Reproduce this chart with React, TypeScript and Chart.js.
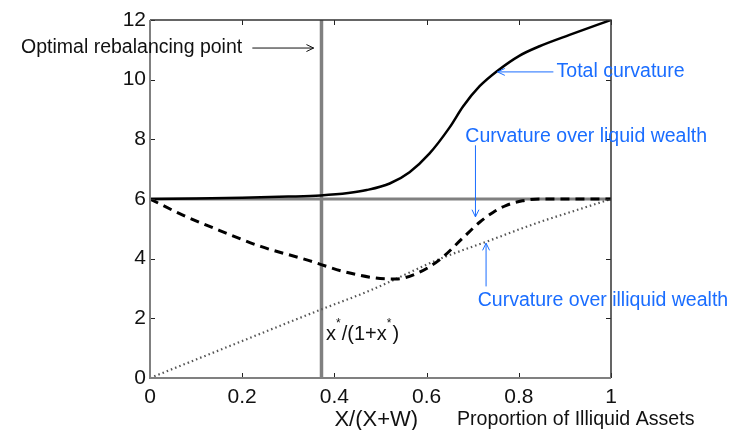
import React, { useEffect, useRef } from "react";
import { Chart, registerables } from "chart.js";

Chart.register(...registerables);

// ---- data ----
const totalX = [0, 0.1, 0.2, 0.3, 0.37, 0.43, 0.47, 0.52, 0.563, 0.606, 0.65, 0.679, 0.715, 0.754, 0.801, 0.845, 0.91, 1];
const totalY = [6.0, 6.02, 6.04, 6.08, 6.12, 6.2, 6.3, 6.52, 6.9, 7.52, 8.4, 9.1, 9.78, 10.3, 10.8, 11.12, 11.5, 12];

const liquidX = [0, 0.07, 0.15, 0.24, 0.34, 0.42, 0.49, 0.534, 0.578, 0.628, 0.679, 0.715, 0.744, 0.772, 0.808, 0.845, 0.9, 1];
const liquidY = [6.0, 5.47, 4.95, 4.41, 3.96, 3.57, 3.35, 3.32, 3.5, 3.96, 4.7, 5.22, 5.55, 5.78, 5.94, 6.0, 6.0, 6.0];

const illiquidX = [0, 0.1, 0.2, 0.3, 0.37, 0.48, 0.63, 0.73, 0.84, 0.92, 1];
const illiquidY = [0, 0.62, 1.24, 1.86, 2.29, 2.95, 4.0, 4.57, 5.2, 5.6, 6];

const optimalX = 0.372;
const levelY = 6;

const xTicks = [0, 0.2, 0.4, 0.6, 0.8, 1];
const xTickLabels = ["0", "0.2", "0.4", "0.6", "0.8", "1"];
const yTicks = [0, 2, 4, 6, 8, 10, 12];
const yTickLabels = ["0", "2", "4", "6", "8", "10", "12"];

const BLUE = "#1a6dff";
const FONT = "'Liberation Sans', Arial, sans-serif";

function pts(xs: number[], ys: number[]) {
  return xs.map((x, i) => ({ x, y: ys[i] }));
}

function arrowHead(ctx: CanvasRenderingContext2D, fx: number, fy: number, tx: number, ty: number, size: number) {
  const a = Math.atan2(ty - fy, tx - fx);
  ctx.beginPath();
  ctx.moveTo(tx - size * Math.cos(a - 0.45), ty - size * Math.sin(a - 0.45));
  ctx.lineTo(tx, ty);
  ctx.lineTo(tx - size * Math.cos(a + 0.45), ty - size * Math.sin(a + 0.45));
  ctx.stroke();
}

function arrow(ctx: CanvasRenderingContext2D, fx: number, fy: number, tx: number, ty: number, color: string) {
  ctx.save();
  ctx.strokeStyle = color;
  ctx.lineWidth = 1;
  ctx.beginPath();
  ctx.moveTo(fx, fy);
  ctx.lineTo(tx, ty);
  ctx.stroke();
  arrowHead(ctx, fx, fy, tx, ty, 8);
  ctx.restore();
}

const framePlugin = {
  id: "frame",
  afterDatasetsDraw(chart: any) {
    const { ctx, chartArea: ca, scales } = chart;
    const xs = scales.x;
    const ys = scales.y;
    ctx.save();
    // inward ticks
    ctx.strokeStyle = "#222";
    ctx.lineWidth = 1;
    const tl = 5;
    xTicks.forEach((v) => {
      const px = Math.round(xs.getPixelForValue(v)) + 0.5;
      ctx.beginPath();
      ctx.moveTo(px, ca.bottom);
      ctx.lineTo(px, ca.bottom - tl);
      ctx.moveTo(px, ca.top);
      ctx.lineTo(px, ca.top + tl);
      ctx.stroke();
    });
    yTicks.forEach((v) => {
      const py = Math.round(ys.getPixelForValue(v)) + 0.5;
      ctx.beginPath();
      ctx.moveTo(ca.left, py);
      ctx.lineTo(ca.left + tl, py);
      ctx.moveTo(ca.right, py);
      ctx.lineTo(ca.right - tl, py);
      ctx.stroke();
    });
    // frame
    ctx.lineWidth = 1.5;
    ctx.strokeStyle = "#333";
    ctx.beginPath();
    ctx.moveTo(ca.left, ca.top);
    ctx.lineTo(ca.right, ca.top);
    ctx.lineTo(ca.right, ca.bottom);
    ctx.stroke();
    ctx.lineWidth = 2;
    ctx.strokeStyle = "#808080";
    ctx.beginPath();
    ctx.moveTo(ca.left, ca.top);
    ctx.lineTo(ca.left, ca.bottom);
    ctx.lineTo(ca.right, ca.bottom);
    ctx.stroke();

    const X = (v: number) => xs.getPixelForValue(v);
    const Y = (v: number) => ys.getPixelForValue(v);

    ctx.font = `19.5px ${FONT}`;
    ctx.textBaseline = "middle";

    // Optimal rebalancing point
    ctx.fillStyle = "#111";
    ctx.textAlign = "right";
    ctx.fillText("Optimal rebalancing point", X(0.2), Y(11.06));
    arrow(ctx, X(0.222), Y(11.06), X(0.355), Y(11.06), "#111");

    // Total curvature
    ctx.fillStyle = BLUE;
    ctx.textAlign = "left";
    ctx.fillText("Total curvature", X(0.882), Y(10.26));
    arrow(ctx, X(0.875), Y(10.26), X(0.754), Y(10.26), BLUE);

    // Curvature over liquid wealth
    ctx.fillText("Curvature over liquid wealth", X(0.684), Y(8.08));
    arrow(ctx, X(0.706), Y(7.8), X(0.706), Y(5.4), BLUE);

    // Curvature over illiquid wealth
    ctx.fillText("Curvature over illiquid wealth", X(0.711), Y(2.59));
    arrow(ctx, X(0.729), Y(3.07), X(0.729), Y(4.52), BLUE);

    // x*/(1+x*)
    ctx.fillStyle = "#111";
    let cx = X(0.382);
    const cy = Y(1.45);
    const sup = `12px ${FONT}`;
    const main = `20px ${FONT}`;
    const parts: [string, boolean][] = [["x", false], ["*", true], ["/(1+x", false], ["*", true], [")", false]];
    parts.forEach(([t, s]) => {
      ctx.font = s ? sup : main;
      ctx.fillText(t, cx, s ? cy - 11 : cy);
      cx += ctx.measureText(t).width + (s ? 1 : 0);
    });

    // axis titles
    ctx.textAlign = "left";
    ctx.font = `22px ${FONT}`;
    ctx.fillText("X/(X+W)", X(0.4), 420);
    ctx.font = `19.6px ${FONT}`;
    ctx.fillText("Proportion of Illiquid Assets", X(0.666), 420);
    ctx.restore();
  },
};

export default function App() {
  const ref = useRef<HTMLCanvasElement | null>(null);
  useEffect(() => {
    if (!ref.current) return;
    const chart = new Chart(ref.current, {
      type: "line",
      data: {
        datasets: [
          {
            data: pts(totalX, totalY),
            borderColor: "#000",
            borderWidth: 2.5,
            pointRadius: 0,
            cubicInterpolationMode: "monotone",
            fill: false,
            order: 0,
          },
          {
            data: pts(liquidX, liquidY),
            borderColor: "#000",
            borderWidth: 3,
            borderDash: [9, 6],
            pointRadius: 0,
            cubicInterpolationMode: "monotone",
            fill: false,
            order: 0,
          },
          {
            data: pts(illiquidX, illiquidY),
            borderColor: "#555",
            borderWidth: 2.2,
            borderDash: [1.5, 3],
            pointRadius: 0,
            cubicInterpolationMode: "monotone",
            fill: false,
            order: 0,
          },
          {
            data: [
              { x: optimalX, y: 0 },
              { x: optimalX, y: 12 },
            ],
            borderColor: "#808080",
            borderWidth: 3.5,
            pointRadius: 0,
            fill: false,
            order: 2,
          },
          {
            data: [
              { x: 0, y: levelY },
              { x: 1, y: levelY },
            ],
            borderColor: "#808080",
            borderWidth: 3,
            pointRadius: 0,
            fill: false,
            order: 2,
          },
        ],
      },
      options: {
        animation: false,
        responsive: false,
        events: [],
        layout: { padding: { left: 0, top: 20, right: 129, bottom: 0 } },
        plugins: { legend: { display: false }, tooltip: { enabled: false } },
        scales: {
          x: {
            type: "linear",
            min: 0,
            max: 1,
            afterFit: (s: any) => {
              s.height = 52;
            },
            afterBuildTicks: (s: any) => {
              s.ticks = xTicks.map((v) => ({ value: v }));
            },
            ticks: {
              padding: 7,
              color: "#111",
              font: { family: FONT, size: 21 },
              maxRotation: 0,
              callback: (v: any) => {
                const i = xTicks.findIndex((t) => Math.abs(t - Number(v)) < 1e-9);
                return i >= 0 ? xTickLabels[i] : "";
              },
            },
            grid: { display: false, drawTicks: false },
            border: { display: false },
          },
          y: {
            type: "linear",
            min: 0,
            max: 12,
            afterFit: (s: any) => {
              s.width = 150;
            },
            afterBuildTicks: (s: any) => {
              s.ticks = yTicks.map((v) => ({ value: v }));
            },
            ticks: {
              padding: 4,
              color: "#111",
              font: { family: FONT, size: 21 },
              callback: (v: any) => {
                const i = yTicks.findIndex((t) => Math.abs(t - Number(v)) < 1e-9);
                return i >= 0 ? yTickLabels[i] : "";
              },
            },
            grid: { display: false, drawTicks: false },
            border: { display: false },
          },
        },
      },
      plugins: [framePlugin],
    } as any);
    return () => chart.destroy();
  }, []);
  return (
    <div style={{ position: "fixed", left: 0, top: 0, width: 740, height: 430, background: "#fff" }}>
      <canvas ref={ref} width={740} height={430} style={{ width: 740, height: 430 }} />
    </div>
  );
}
